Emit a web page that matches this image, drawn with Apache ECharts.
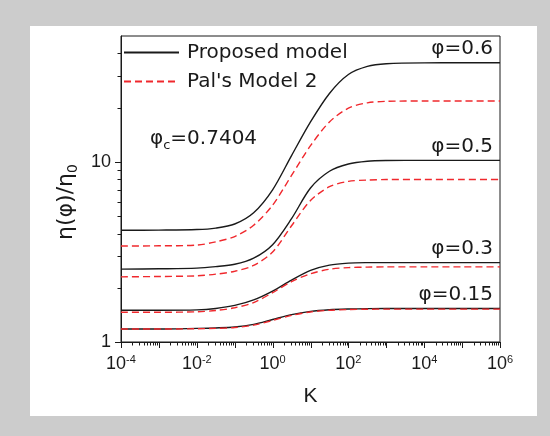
<!DOCTYPE html>
<html>
<head>
<meta charset="utf-8">
<script src="https://cdn.jsdelivr.net/npm/echarts@6/dist/echarts.min.js"></script>
<style>
html, body { margin: 0; padding: 0; background: #cccccc; }
#main { position: absolute; left: 30px; top: 26px; width: 507px; height: 390px; background: #ffffff; }
</style>
</head>
<body>
<div id="main"></div>
<script>
// K grid (log spaced, half decades in the transition)
var K = [0.0001, 0.001, 0.01, 0.0316, 0.1, 0.316, 1, 3.16, 10, 31.6, 100, 316, 1000, 10000, 100000, 1000000];

// Proposed model (solid black)
var prop015 = [1.18, 1.18, 1.19, 1.197, 1.211, 1.253, 1.334, 1.419, 1.479, 1.51, 1.524, 1.531, 1.535, 1.535, 1.535, 1.535];
var prop03  = [1.50, 1.50, 1.507, 1.535, 1.596, 1.714, 1.919, 2.208, 2.50, 2.673, 2.742, 2.758, 2.76, 2.76, 2.76, 2.76];
var prop05  = [2.54, 2.55, 2.57, 2.62, 2.70, 2.92, 3.47, 4.84, 7.16, 8.87, 9.73, 10.09, 10.18, 10.2, 10.2, 10.2];
var prop06  = [4.17, 4.18, 4.21, 4.29, 4.52, 5.22, 7.0, 10.84, 16.67, 23.99, 30.55, 33.88, 35.08, 35.48, 35.5, 35.5];

// Pal's Model 2 (dashed red)
var pal015 = [1.18, 1.18, 1.185, 1.19, 1.203, 1.24, 1.318, 1.405, 1.468, 1.5, 1.514, 1.52, 1.522, 1.522, 1.522, 1.522];
var pal03  = [1.462, 1.462, 1.472, 1.496, 1.549, 1.656, 1.879, 2.163, 2.393, 2.535, 2.588, 2.606, 2.612, 2.612, 2.612, 2.612];
var pal05  = [2.30, 2.31, 2.33, 2.38, 2.47, 2.66, 3.16, 4.42, 6.10, 7.28, 7.80, 7.93, 7.98, 7.98, 7.98, 7.98];
var pal06  = [3.41, 3.42, 3.45, 3.60, 3.85, 4.45, 5.75, 8.41, 12.3, 16.67, 19.86, 21.28, 21.68, 21.78, 21.8, 21.8];

var phiLabels = ['φ=0.15', 'φ=0.3', 'φ=0.5', 'φ=0.6'];
var yLabels = [1, 10];

var FONT = 'Liberation Sans, Arial, sans-serif';
var WIDE = 'DejaVu Sans, sans-serif';
var INK = '#1a1a1a';
var RED = '#f0282d';

// axis tick positions (minor ticks at 2..9 per decade)
var xTicks = [], yTicks = [];
for (var e = -4; e <= 6; e++) {
    xTicks.push([Math.pow(10, e), 1, 6]);
    if (e < 6) for (var m = 2; m < 10; m++) xTicks.push([m * Math.pow(10, e), 1, 3.5]);
}
[1, 10].forEach(function (v) { yTicks.push([0.0001, v, 6]); });
[2, 3, 4, 5, 6, 7, 8, 9, 20, 30, 40].forEach(function (v) { yTicks.push([0.0001, v, 3.5]); });

function curve(name, ys, dashed, label) {
    var s = {
        name: name,
        type: 'line',
        data: K.map(function (k, i) { return [k, ys[i]]; }),
        symbol: 'none',
        smooth: 0.3,
        silent: true,
        z: dashed ? 3 : 2,
        itemStyle: { color: dashed ? RED : INK },
        lineStyle: { color: dashed ? RED : INK, width: 1.4, type: dashed ? [7, 4] : 'solid' }
    };
    if (label) {
        s.markPoint = {
            symbol: 'circle',
            symbolSize: 0,
            silent: true,
            data: [{ coord: [K[K.length - 1], ys[ys.length - 1]] }],
            label: {
                show: true, formatter: label, position: [0, 0],
                align: 'right', verticalAlign: 'bottom', offset: [-7, -4],
                fontSize: 20, color: INK, fontFamily: WIDE
            }
        };
    }
    return s;
}

var myChart = echarts.init(document.getElementById('main'));

var option = {
    animation: false,
    grid: { left: 91, top: 10, right: 37, bottom: 74, show: true, borderColor: INK, borderWidth: 1 },
    legend: {
        data: ['Proposed model', "Pal's Model 2"],
        orient: 'vertical',
        left: 93, top: 16, padding: 0,
        itemWidth: 55, itemHeight: 14, itemGap: 8,
        selectedMode: false,
        itemStyle: { opacity: 0 },
        textStyle: { fontSize: 20, lineHeight: 21, color: INK, fontFamily: WIDE, padding: [0, 0, 0, 3] }
    },
    graphic: [{
        type: 'text', left: 120, top: 103,
        style: {
            text: '{a|φ}{s|c}{a|=0.7404}',
            rich: {
                a: { fontSize: 20, fontFamily: WIDE, fill: INK },
                s: { fontSize: 13, fontFamily: WIDE, fill: INK, padding: [13, 0, 0, 0] }
            }
        }
    }],
    xAxis: {
        type: 'log', logBase: 10, min: 0.0001, max: 1000000, interval: 1,
        name: 'K', nameLocation: 'middle', nameGap: 44,
        nameTextStyle: { fontSize: 21, color: INK, fontFamily: FONT },
        axisLine: { lineStyle: { color: INK } },
        axisTick: { show: false },
        splitLine: { show: false },
        axisLabel: {
            margin: 12, color: INK, fontFamily: FONT, fontSize: 18,
            formatter: function (v) {
                var p = Math.round(Math.log10(v));
                return p % 2 === 0 ? '10{sup|' + p + '}' : '';
            },
            rich: { sup: { fontSize: 11, fontFamily: FONT, color: INK, padding: [0, 0, 10, 0] } }
        }
    },
    yAxis: {
        type: 'log', logBase: 10, min: 1, max: 50, interval: 1,
        name: 'η(φ)/η{sub|0}', nameLocation: 'middle', nameGap: 38,
        nameTextStyle: {
            fontSize: 22, color: INK, fontFamily: WIDE, padding: [0, 26, 0, 0],
            rich: { sub: { fontSize: 14, fontFamily: WIDE, color: INK, padding: [13, 0, 0, 0] } }
        },
        axisLine: { lineStyle: { color: INK } },
        axisTick: { show: false },
        splitLine: { show: false },
        axisLabel: {
            margin: 10, color: INK, fontFamily: FONT, fontSize: 18,
            formatter: function (v) {
                return yLabels.indexOf(Math.round(v * 1000) / 1000) >= 0 ? String(Math.round(v)) : '';
            }
        }
    },
    series: [
        curve('Proposed model', prop015, false, phiLabels[0]),
        curve('Proposed model', prop03, false, phiLabels[1]),
        curve('Proposed model', prop05, false, phiLabels[2]),
        curve('Proposed model', prop06, false, phiLabels[3]),
        curve("Pal's Model 2", pal015, true),
        curve("Pal's Model 2", pal03, true),
        curve("Pal's Model 2", pal05, true),
        curve("Pal's Model 2", pal06, true),
        {
            type: 'custom', silent: true, clip: false, z: 10,
            data: xTicks,
            renderItem: function (params, api) {
                var p = api.coord([api.value(0), api.value(1)]);
                var x = Math.round(p[0]) + 0.5;
                return { type: 'line', shape: { x1: x, y1: p[1], x2: x, y2: p[1] + api.value(2) }, style: { stroke: INK, lineWidth: 1 } };
            }
        },
        {
            type: 'custom', silent: true, clip: false, z: 10,
            data: yTicks,
            renderItem: function (params, api) {
                var p = api.coord([api.value(0), api.value(1)]);
                var y = Math.round(p[1]) + 0.5;
                return { type: 'line', shape: { x1: p[0], y1: y, x2: p[0] - api.value(2), y2: y }, style: { stroke: INK, lineWidth: 1 } };
            }
        }
    ]
};

myChart.setOption(option, true);
</script>
</body>
</html>
